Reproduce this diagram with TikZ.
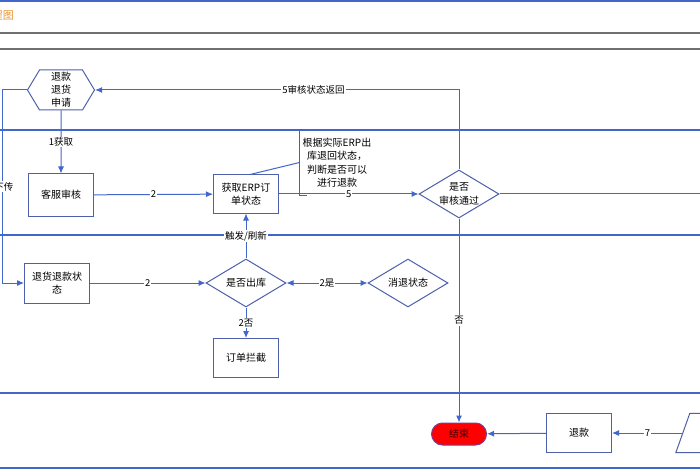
\documentclass[tikz,border=0pt]{standalone}
\usepackage{fontspec}
\setmainfont{Noto Sans CJK SC}
\usetikzlibrary{positioning,arrows.meta,shapes.geometric,shapes.symbols}

\definecolor{flowblue}{RGB}{66,103,204}
\definecolor{edgeblue}{RGB}{78,96,170}
\definecolor{lanegray}{RGB}{112,112,112}
\definecolor{titleorange}{RGB}{232,150,60}
\definecolor{endborder}{RGB}{120,60,150}

\begin{document}
\begin{tikzpicture}[
  x=1pt, y=-1pt,
  font=\fontsize{10}{13.5}\selectfont,
  box/.style={draw=edgeblue, line width=1pt, rectangle, minimum width=65pt, minimum height=40pt, align=center, inner sep=2pt},
  decide/.style={draw=edgeblue, line width=1pt, diamond, aspect=1.65, minimum width=80pt, minimum height=48pt, inner sep=0pt, align=center},
  hexa/.style={draw=edgeblue, line width=1pt, signal, signal to=west and east, signal pointer angle=118, minimum width=67pt, minimum height=40pt, inner sep=0pt, align=center, font=\fontsize{10}{13}\selectfont},
  flow/.style={-{Latex[length=7pt,width=6pt]}, draw=flowblue, line width=1pt},
  link/.style={draw=flowblue, line width=1pt},
  lbl/.style={fill=white, inner sep=1pt, font=\fontsize{9.5}{11}\selectfont},
  lane/.style={draw=flowblue, line width=1.2pt},
  rule/.style={draw=lanegray, line width=1.5pt},
]
\clip (0,0) rectangle (700,470);
\fill[white] (0,0) rectangle (700,470);

% frame and lanes
\draw[lane] (0,1) -- (700,1);
\draw[rule] (0,33) -- (700,33);
\draw[rule] (0,49) -- (700,49);
\draw[lane] (0,130) -- (700,130);
\draw[lane] (0,235) -- (700,235);
\draw[lane] (0,393) -- (700,393);
\draw[lane] (0,468) -- (700,468);
\node[anchor=east, inner sep=0pt, text=titleorange, font=\fontsize{11}{13}\selectfont] (title) at (14,15) {流程图};

% nodes
\node[hexa] (apply) at (61,90) {退款\\退货\\申请};
\node[box, minimum height=42pt, below=63pt of apply] (audit) {客服审核};
\node[box, minimum height=38pt] (erp) at (246,194) {获取ERP订\\单状态};
\node[align=center, inner sep=3pt, minimum height=65pt] (note) at (337,162.5) {根据实际ERP出\\库退回状态，\\判断是否可以\\进行退款};
\node[decide] (passed) at (459,194) {是否\\审核通过};
\node[box] (retstat) at (57,283) {退货退款状\\态};
\node[decide] (outbound) at (246,283) {是否出库};
\node[decide] (cancel) at (408,283) {消退状态};
\node[box, minimum height=39pt] (block) at (246,358) {订单拦截};
\node[draw=endborder, line width=1pt, fill=red, rounded corners=11pt, minimum width=55pt, minimum height=22pt, inner sep=0pt, text=red!25!black] (finish) at (459,434) {结束};
\node[box, minimum height=39pt] (refund) at (579,433) {退款};
\node[rectangle, minimum width=60pt, minimum height=39pt, inner sep=0pt] (input) at (713,433) {};
\coordinate (lbend) at (2,90);
\coordinate (rightout) at (710,194);

% input parallelogram, cut by the page edge
\draw[edgeblue, line width=1pt] (input.south east) -- ([xshift=-7pt]input.south west) -- ([xshift=7pt]input.north west) -- (input.north east);

% note bracket
\draw[edgeblue, line width=1pt] ([xshift=7pt]note.north west) -- (note.north west) -- (note.south west) -- ([xshift=7pt]note.south west);
\draw[link] ([xshift=4pt]erp.north) -- (note.west);

% connectors
\draw[flow] (apply) -- node[lbl] {1获取} (audit);
\draw[flow] (audit) -- node[lbl] {2} (erp);
\draw[flow] (erp) -- node[lbl] {5} (passed);
\draw[flow] (passed.north) |- node[lbl, pos=0.7] {5审核状态返回} (apply.east);
\draw[link] (passed.east) -- (rightout);
\draw[flow] (passed.south) -- node[lbl] {否} (finish.north);
\draw[flow] (apply.west) -- (lbend) -- node[lbl, xshift=2pt] {下传} (lbend |- retstat.west) -- (retstat.west);
\draw[flow] (retstat) -- node[lbl] {2} (outbound);
\draw[flow] (outbound) -- node[lbl] {触发/刷新} (erp);
\draw[{Latex[length=7pt,width=6pt]}-{Latex[length=7pt,width=6pt]}, draw=flowblue, line width=1pt] (outbound) -- node[lbl] {2是} (cancel);
\draw[flow] (outbound) -- node[lbl] {2否} (block);
\draw[flow] (refund) -- (finish);
\draw[flow] (input.west) -- node[lbl] {7} (refund);
\end{tikzpicture}
\end{document}
